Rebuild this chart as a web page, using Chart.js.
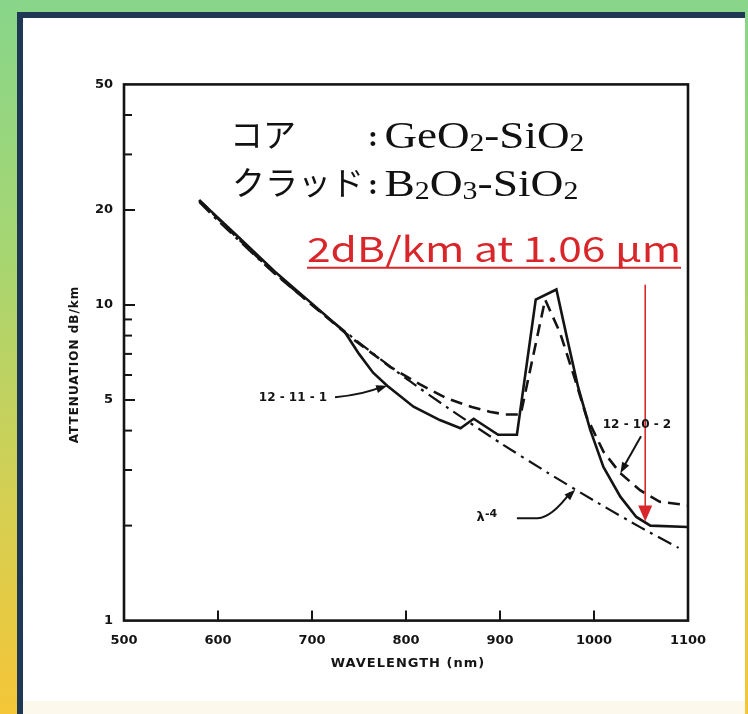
<!DOCTYPE html>
<html>
<head>
<meta charset="utf-8">
<script src="https://cdn.jsdelivr.net/npm/chart.js@4.4.1/dist/chart.umd.min.js"></script>
<style>
  html, body { margin: 0; padding: 0; width: 748px; height: 714px; overflow: hidden; }
  body {
    position: relative;
    background: linear-gradient(to bottom, #88d68a 0%, #a6d672 35%, #d4cf52 70%, #f5c638 100%);
  }
  #panel {
    position: absolute; left: 17px; top: 12px; width: 728px; height: 702px;
    background: #ffffff; box-sizing: border-box;
    border-left: 6px solid #1e3856; border-top: 6px solid #1e3856;
  }
  #panel::after {
    content: ''; position: absolute; left: 0; right: 0; bottom: 0; height: 13px; background: #fdf8ec;
  }
  canvas { position: absolute; left: 0; top: 0; }
</style>
</head>
<body>
<div id="panel"></div>
<canvas id="chart" width="748" height="714"></canvas>
<script>
// Fibre loss spectra (dB/km) versus wavelength (nm)
const wavelengthFibre1 = [580, 620, 660, 700, 735, 750, 765, 780, 808, 836, 858, 872, 898, 918, 938, 960, 971, 983, 996, 1010, 1028, 1045, 1060, 1100];
const lossFibre1       = [21.5, 16.6, 12.8, 10.1, 8.2, 7.0, 6.1, 5.55, 4.76, 4.32, 4.07, 4.36, 3.88, 3.88, 10.4, 11.2, 7.94, 5.51, 4.02, 3.07, 2.47, 2.13, 2.0, 1.98];

const wavelengthFibre2 = [580, 620, 660, 700, 740, 783, 815, 843, 870, 889, 905, 922, 948, 964, 980, 992, 1010, 1028, 1049, 1070, 1100];
const lossFibre2       = [21.5, 16.4, 12.6, 10.0, 7.95, 6.37, 5.6, 5.07, 4.75, 4.59, 4.5, 4.5, 10.4, 8.15, 5.79, 4.43, 3.43, 2.93, 2.59, 2.38, 2.32];

const wavelengthRayleigh = [580, 600, 650, 700, 750, 800, 850, 900, 950, 1000, 1050, 1090];
const lossRayleigh       = [21.2, 18.5, 13.4, 10.0, 7.6, 5.85, 4.6, 3.66, 2.95, 2.4, 1.97, 1.7];

const seriesNames = ['12-11-1', '12-10-2', 'λ-4'];
const xTickValues = [500, 600, 700, 800, 900, 1000, 1100];
const yTickLabels = [1, 5, 10, 20, 50];
const yTickMarks  = [2, 3, 4, 5, 6, 7, 8, 9, 10, 20, 30, 40];
const xTitle = 'WAVELENGTH (nm)';
const yTitle = 'ATTENUATION dB/km';

const toPoints = (xs, ys) => xs.map((x, i) => ({ x: x, y: ys[i] }));

const INK = '#141414';
const RED = '#d8262b';
const axisFont = { family: '"DejaVu Sans"', weight: 'bold', size: 13 };

function arrowHead(ctx, fx, fy, tx, ty, len, half, color) {
  const a = Math.atan2(ty - fy, tx - fx);
  ctx.save();
  ctx.fillStyle = color;
  ctx.beginPath();
  ctx.moveTo(tx, ty);
  ctx.lineTo(tx - len * Math.cos(a) + half * Math.sin(a), ty - len * Math.sin(a) - half * Math.cos(a));
  ctx.lineTo(tx - len * Math.cos(a) - half * Math.sin(a), ty - len * Math.sin(a) + half * Math.cos(a));
  ctx.closePath();
  ctx.fill();
  ctx.restore();
}

// chemical formula with lowered digits, stretched to a given width
function drawFormula(ctx, parts, x, y, width) {
  const big = '38px "Liberation Serif"', small = '25px "Liberation Serif"';
  let total = 0;
  parts.forEach(([t, sub]) => { ctx.font = sub ? small : big; total += ctx.measureText(t).width; });
  ctx.save();
  ctx.translate(x, y);
  ctx.scale(width / total, 1);
  let cx = 0;
  parts.forEach(([t, sub]) => {
    ctx.font = sub ? small : big;
    ctx.fillText(t, cx, sub ? 3 : 0);
    cx += ctx.measureText(t).width;
  });
  ctx.restore();
}

const framePlugin = {
  id: 'frameAndNotes',
  afterDraw(chart) {
    const ctx = chart.ctx;
    const { left, right, top, bottom } = chart.chartArea;
    const X = v => chart.scales.x.getPixelForValue(v);
    const Y = v => chart.scales.y.getPixelForValue(v);
    ctx.save();

    // plot frame and inward tick marks
    ctx.strokeStyle = INK;
    ctx.lineWidth = 2.6;
    ctx.strokeRect(left, top, right - left, bottom - top);
    ctx.lineWidth = 2;
    xTickValues.slice(1, -1).forEach(v => {
      ctx.beginPath(); ctx.moveTo(X(v), bottom); ctx.lineTo(X(v), bottom - 10); ctx.stroke();
    });
    yTickMarks.forEach(v => {
      const len = yTickLabels.includes(v) ? 11 : 8;
      ctx.beginPath(); ctx.moveTo(left, Y(v)); ctx.lineTo(left + len, Y(v)); ctx.stroke();
    });

    // axis titles
    ctx.fillStyle = INK;
    ctx.font = 'bold 13px "DejaVu Sans"';
    ctx.letterSpacing = '1px';
    ctx.textAlign = 'center';
    ctx.textBaseline = 'middle';
    ctx.fillText(xTitle, (left + right) / 2 + 2, bottom + 43);
    ctx.save();
    ctx.translate(left - 49, (top + bottom) / 2 + 12);
    ctx.rotate(-Math.PI / 2);
    ctx.font = 'bold 12px "DejaVu Sans"';
    ctx.fillText(yTitle, 0, 0);
    ctx.restore();
    ctx.letterSpacing = '0px';

    // composition of core and cladding
    ctx.fillStyle = '#111';
    ctx.textBaseline = 'alphabetic';
    ctx.textAlign = 'left';
    ctx.font = '33px "Noto Sans CJK JP"';
    ctx.fillText('コア', X(612.8), Y(31.4) - 1);
    ctx.fillText('クラッド', X(614.9), Y(22.1) - 1);
    ctx.font = 'bold 30px "Liberation Serif"';
    ctx.fillText(':', X(759.6), Y(31.4) - 2);
    ctx.fillText(':', X(759.6), Y(22.1) - 2);
    drawFormula(ctx, [['GeO', 0], ['2', 1], ['-SiO', 0], ['2', 1]], X(777), Y(31.4), 200);
    drawFormula(ctx, [['B', 0], ['2', 1], ['O', 0], ['3', 1], ['-SiO', 0], ['2', 1]], X(777), Y(22.1), 194);

    // red note with underline and arrow to the 1.06 µm loss
    const note = '2dB/km at 1.06 μm';
    const nx = X(694.7), nb = Y(13.7), targetW = 374;
    ctx.font = '34px "Noto Sans CJK JP"';
    const w = ctx.measureText(note).width;
    ctx.save();
    ctx.translate(nx, nb);
    ctx.scale(targetW / w, 1);
    ctx.fillStyle = RED;
    ctx.fillText(note, 0, 0);
    ctx.restore();
    ctx.strokeStyle = RED;
    ctx.lineWidth = 2;
    ctx.beginPath(); ctx.moveTo(nx, nb + 6); ctx.lineTo(nx + targetW, nb + 6); ctx.stroke();
    const ax = X(1054.5), ay0 = Y(11.6), ay1 = Y(2.06);
    ctx.lineWidth = 1.6;
    ctx.beginPath(); ctx.moveTo(ax, ay0); ctx.lineTo(ax, ay1 - 12); ctx.stroke();
    arrowHead(ctx, ax, ay0, ax, ay1, 16, 7, RED);

    // curve labels
    ctx.fillStyle = INK;
    ctx.strokeStyle = INK;
    ctx.font = 'bold 12px "DejaVu Sans"';
    ctx.textBaseline = 'middle';
    ctx.textAlign = 'center';
    ctx.fillText('12 - 11 - 1', X(679.8), Y(5.07));
    ctx.fillText('12 - 10 - 2', X(1045.7), Y(4.17));
    ctx.font = 'bold 13px "DejaVu Sans"';
    ctx.textAlign = 'left';
    ctx.fillText('λ', X(875), Y(2.12));
    ctx.font = 'bold 11px "DejaVu Sans"';
    ctx.fillText('-4', X(884), Y(2.18));

    ctx.lineWidth = 2;
    // 12-11-1 pointer
    let sx = X(724.5), sy = Y(5.1), tx = X(780), ty = Y(5.55);
    ctx.beginPath(); ctx.moveTo(sx, sy); ctx.quadraticCurveTo(X(755), Y(5.2), tx - 5, ty + 1); ctx.stroke();
    arrowHead(ctx, X(755), Y(5.25), tx, ty, 11, 4, INK);
    // 12-10-2 pointer
    sx = X(1050); sy = Y(3.84); tx = X(1028); ty = Y(2.93);
    ctx.beginPath(); ctx.moveTo(sx, sy); ctx.lineTo(tx + 2, ty - 4); ctx.stroke();
    arrowHead(ctx, sx, sy, tx, ty, 11, 4, INK);
    // λ-4 pointer
    sx = X(918); sy = Y(2.11); tx = X(980); ty = Y(2.6);
    ctx.beginPath(); ctx.moveTo(sx, sy); ctx.lineTo(X(940), Y(2.11));
    ctx.quadraticCurveTo(X(955), Y(2.12), tx - 5, ty + 3); ctx.stroke();
    arrowHead(ctx, X(955), Y(2.2), tx, ty, 11, 4, INK);

    ctx.restore();
  }
};

new Chart(document.getElementById('chart'), {
  type: 'line',
  data: {
    datasets: [
      { label: seriesNames[0], data: toPoints(wavelengthFibre1, lossFibre1), borderColor: INK, borderWidth: 2.6, pointRadius: 0, tension: 0, fill: false },
      { label: seriesNames[1], data: toPoints(wavelengthFibre2, lossFibre2), borderColor: INK, borderWidth: 2.6, borderDash: [12, 7], pointRadius: 0, tension: 0, fill: false },
      { label: seriesNames[2], data: toPoints(wavelengthRayleigh, lossRayleigh), borderColor: INK, borderWidth: 2.2, borderDash: [15, 6, 3, 6], pointRadius: 0, tension: 0.2, fill: false }
    ]
  },
  options: {
    responsive: false,
    animation: false,
    devicePixelRatio: 1,
    layout: { padding: { left: 0, right: 60, top: 84.4, bottom: 0 } },
    plugins: { legend: { display: false }, tooltip: { enabled: false } },
    scales: {
      x: {
        type: 'linear', min: 500, max: 1100, position: 'bottom',
        afterFit: s => { s.height = 93.4; },
        afterBuildTicks: s => { s.ticks = xTickValues.map(v => ({ value: v })); },
        ticks: { font: axisFont, color: INK, padding: 12, maxRotation: 0, autoSkip: false, callback: v => String(v) },
        grid: { display: false, drawTicks: false },
        border: { display: false }
      },
      y: {
        type: 'logarithmic', min: 1, max: 50, position: 'left',
        afterFit: s => { s.width = 124; },
        afterBuildTicks: s => { s.ticks = yTickLabels.map(v => ({ value: v })); },
        ticks: { font: axisFont, color: INK, padding: 11, autoSkip: false, callback: v => String(v) },
        grid: { display: false, drawTicks: false },
        border: { display: false }
      }
    }
  },
  plugins: [framePlugin]
});
</script>
</body>
</html>
